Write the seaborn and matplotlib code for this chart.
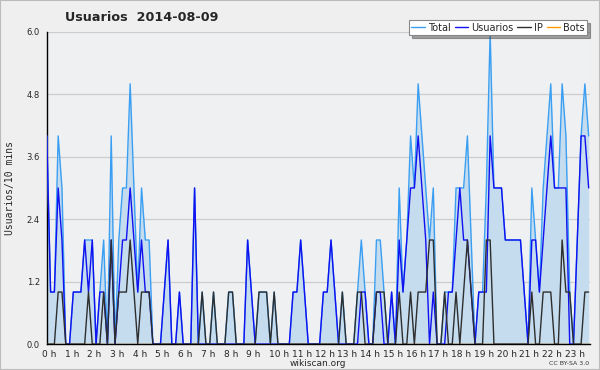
import numpy as np
import pandas as pd
import matplotlib
matplotlib.use("Agg")
import matplotlib.pyplot as plt
import matplotlib.transforms as mtrans
import seaborn as sns

# 10-minute slots over the day (144)
total = [4,1,1,4,3,0,0,1,1,1, 2,2,2,0,1,2,0,4,0,2,
         3,3,5,3,1,3,2,2,0,0, 0,1,2,0,0,1,0,0,0,3,
         0,1,0,0,1,0,0,0,1,1, 0,0,0,2,1,0,1,1,1,0,
         1,0,0,0,0,1,1,2,1,0, 0,0,0,1,1,2,1,0,1,0,
         0,0,1,2,1,0,0,2,2,1, 0,1,0,3,1,2,4,3,5,4,
         3,2,3,0,0,1,1,1,3,3, 3,4,2,0,1,1,3,6,3,3,
         3,2,2,2,2,2,1,0,3,2, 1,3,4,5,3,3,5,4,1,0,
         2,4,5,4]
usuarios = [4,1,1,3,2,0,0,1,1,1, 2,1,2,0,1,1,0,2,0,1,
            2,2,3,2,1,2,1,1,0,0, 0,1,2,0,0,1,0,0,0,3,
            0,0,0,0,0,0,0,0,0,0, 0,0,0,2,1,0,0,0,0,0,
            0,0,0,0,0,1,1,2,1,0, 0,0,0,1,1,2,1,0,0,0,
            0,0,0,1,1,0,0,1,1,0, 0,1,0,2,1,2,3,3,4,3,
            2,0,1,0,0,0,1,1,2,3, 2,2,1,0,1,1,1,4,3,3,
            3,2,2,2,2,2,1,0,2,2, 1,2,3,4,3,3,3,3,0,0,
            2,4,4,3]
ip = [0,0,0,1,1,0,0,0,0,0, 0,1,0,0,0,1,0,2,0,1,
      1,1,2,1,0,1,1,1,0,0, 0,0,0,0,0,0,0,0,0,0,
      0,1,0,0,1,0,0,0,1,1, 0,0,0,0,0,0,1,1,1,0,
      1,0,0,0,0,0,0,0,0,0, 0,0,0,0,0,0,0,0,1,0,
      0,0,1,1,0,0,0,1,1,1, 0,0,0,1,0,0,1,0,1,1,
      1,2,2,0,0,1,0,0,1,0, 1,2,1,0,0,0,2,2,0,0,
      0,0,0,0,0,0,0,0,1,0, 0,1,1,1,0,0,2,1,1,0,
      0,0,1,1]
bots = [0] * 144
hour_labels = [f"{h} h" for h in range(24)]

df = pd.DataFrame({
    "hour": np.arange(144) / 6.0,
    "Total": total, "Usuarios": usuarios, "IP": ip, "Bots": bots,
})

sns.set_style("white")
plt.rcParams["font.family"] = ["DejaVu Sans"]

fig = plt.figure(figsize=(6.0, 3.7), dpi=100, facecolor="#efefef")
ax = fig.add_axes([0.078, 0.07, 0.905, 0.844])
ax.set_facecolor("#eff0f2")

ax.fill_between(df["hour"], df["Total"], 0, color="#c5dcef", lw=0, zorder=1)
sns.lineplot(data=df, x="hour", y="Total", ax=ax, color="#3a9ff2", lw=1.0, label="Total", zorder=3)
sns.lineplot(data=df, x="hour", y="Usuarios", ax=ax, color="#1010f0", lw=1.0, label="Usuarios", zorder=4)
sns.lineplot(data=df, x="hour", y="IP", ax=ax, color="#2e2e2e", lw=1.0, label="IP", zorder=5)
sns.lineplot(data=df, x="hour", y="Bots", ax=ax, color="#ff9900", lw=1.0, label="Bots", zorder=2)

ax.set_xlim(0, 143.3 / 6)
ax.set_ylim(0, 6.0)
ax.set_yticks(np.arange(0, 6.01, 1.2))
ax.set_yticklabels([f"{v:.1f}" for v in np.arange(0, 6.01, 1.2)], fontsize=6)
ax.set_yticks(np.arange(0, 6.01, 0.3), minor=True)
ax.set_xticks(range(24))
ax.set_xticklabels(hour_labels, fontsize=6.5)
ax.set_xticks(np.arange(0, 24, 1 / 6), minor=True)
ax.tick_params(axis="y", which="major", direction="out", length=4, width=0.8, color="black", pad=1)
ax.tick_params(axis="x", which="major", direction="out", length=4, width=0.8, color="black", pad=0)
ax.tick_params(axis="both", which="minor", direction="out", length=2.5, width=0.6, color="black")
offset = mtrans.ScaledTranslation(-5 / 100, 0, fig.dpi_scale_trans)
for lbl in ax.get_xticklabels():
    lbl.set_horizontalalignment("left")
    lbl.set_transform(lbl.get_transform() + offset)

ax.grid(axis="y", which="major", color="#cccccc", lw=0.9, zorder=0)
ax.set_axisbelow(True)
for s in ["top", "right"]:
    ax.spines[s].set_visible(False)
ax.spines["left"].set_color("black")
ax.spines["bottom"].set_color("black")
ax.spines["left"].set_linewidth(1.0)
ax.spines["bottom"].set_linewidth(1.0)

ax.set_xlabel("wikiscan.org", fontsize=6.5, labelpad=0)
ax.set_ylabel("Usuarios/10 mins", fontsize=7, family="DejaVu Sans Mono", labelpad=8)

fig.text(0.108, 0.953, "Usuarios  2014-08-09", fontsize=9.2, fontweight="bold", ha="left", va="center")
fig.text(0.982, 0.012, "CC BY-SA 3.0", fontsize=4.5, ha="right", va="bottom", color="#333333")

leg = ax.legend(loc="lower right", bbox_to_anchor=(0.995, 0.99), ncol=4, fontsize=7,
                frameon=True, fancybox=False, shadow=True, handlelength=1.4,
                handletextpad=0.3, columnspacing=0.4, borderpad=0.25, borderaxespad=0)
leg.get_frame().set_edgecolor("#888888")
leg.get_frame().set_linewidth(0.8)
leg.set_zorder(10)

border = plt.Rectangle((0, 0), 1, 1, transform=fig.transFigure, fill=False,
                       edgecolor="#bbbbbb", lw=1.5)
fig.patches.append(border)

fig.savefig("out.png", dpi=100, facecolor=fig.get_facecolor())
